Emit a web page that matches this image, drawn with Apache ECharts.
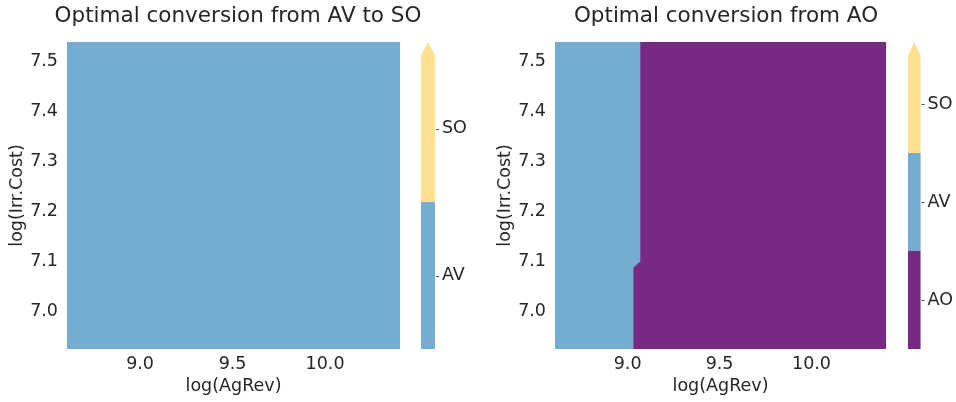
<!DOCTYPE html>
<html><head><meta charset="utf-8">
<script src="https://cdn.jsdelivr.net/npm/echarts@6/dist/echarts.min.js"></script>
<style>html,body{margin:0;padding:0;background:#fff}#c{width:956px;height:402px}</style>
</head><body><div id="c"></div>
<script>
// ---- data ----
const titles = ['Optimal conversion from AV to SO', 'Optimal conversion from AO'];
const xLabel = 'log(AgRev)';
const yLabel = 'log(Irr.Cost)';
const xLimits = [8.605, 10.405];
const yLimits = [6.924, 7.538];
const xTicks = [9.0, 9.5, 10.0];
const yTicks = [7.0, 7.1, 7.2, 7.3, 7.4, 7.5];
// left panel: entire domain is AV
const leftCategories = ['AV', 'SO'];
// right panel: AV/AO boundary (x at given y, bottom to top)
const rightBoundary = [[9.033, 6.924], [9.033, 7.087], [9.07, 7.099], [9.07, 7.538]];
const rightCategories = ['AO', 'AV', 'SO'];
const colors = { AO: '#762a83', AV: '#74add1', SO: '#fee090' };

// ---- build regions ----
const [x0, x1] = xLimits, [y0, y1] = yLimits;
const leftRegions = [
  { cat: 'AV', poly: [[x0, y0], [x0, y1], [x1, y1], [x1, y0]] }
];
const rightRegions = [
  { cat: 'AV', poly: [[x0, y0], [x0, y1]].concat(rightBoundary.slice().reverse()) },
  { cat: 'AO', poly: rightBoundary.concat([[x1, y1], [x1, y0]]) }
];

const txt = '#262626';
const font = 'DejaVu Sans';
const fs = 17.5;

function regionSeries(regions, idx) {
  return {
    type: 'custom', xAxisIndex: idx, yAxisIndex: idx, clip: true, silent: true,
    data: regions.map((r, i) => [i]),
    renderItem: (params, api) => {
      const r = regions[params.dataIndex];
      return { type: 'polygon', shape: { points: r.poly.map(p => api.coord(p)) },
        style: { fill: colors[r.cat], stroke: colors[r.cat], lineWidth: 0.5 } };
    }
  };
}
function colorbarSeries(cats, idx) {
  return {
    type: 'custom', xAxisIndex: idx, yAxisIndex: idx, clip: false, silent: true,
    data: cats.map((c, i) => [0, i]),
    renderItem: (params, api) => {
      const i = params.dataIndex;
      const a = api.coord([0, i]), b = api.coord([1, i]);
      const h = api.size([0, 1])[1];
      const top = a[1] - h / 2, bot = a[1] + h / 2;
      const cy = Math.round(a[1]) + 0.5;
      const children = [
        { type: 'rect', shape: { x: a[0], y: top, width: b[0] - a[0], height: bot - top },
          style: { fill: colors[cats[i]] } },
        { type: 'line', shape: { x1: b[0] + 1, y1: cy, x2: b[0] + 4, y2: cy },
          style: { stroke: txt, lineWidth: 0.8 } }
      ];
      if (i === cats.length - 1) {
        children.push({ type: 'polygon', shape: { points: [[a[0], top + 0.5], [(a[0] + b[0]) / 2, top - 13], [b[0], top + 0.5]] },
          style: { fill: colors[cats[i]] } });
      }
      return { type: 'group', children };
    }
  };
}
function mainX(idx) {
  return { gridIndex: idx, type: 'value', min: x0, max: x1,
    name: xLabel, nameLocation: 'middle', nameGap: 27,
    nameTextStyle: { color: txt, fontSize: fs, fontFamily: font },
    axisLine: { show: false }, axisTick: { show: false }, splitLine: { show: false },
    axisLabel: { customValues: xTicks, color: txt, fontSize: fs, fontFamily: font, margin: 6,
      formatter: v => v.toFixed(1) } };
}
function mainY(idx) {
  return { gridIndex: idx, type: 'value', min: y0, max: y1,
    name: yLabel, nameLocation: 'middle', nameGap: 40,
    nameTextStyle: { color: txt, fontSize: fs, fontFamily: font },
    axisLine: { show: false }, axisTick: { show: false }, splitLine: { show: false },
    axisLabel: { customValues: yTicks, color: txt, fontSize: fs, fontFamily: font, margin: 9,
      formatter: v => v.toFixed(1) } };
}
function cbX(idx) {
  return { gridIndex: idx, type: 'value', min: 0, max: 1, show: false };
}
function cbY(idx, cats) {
  return { gridIndex: idx, type: 'category', data: cats, position: 'right',
    axisLine: { show: false }, splitLine: { show: false }, axisTick: { show: false },
    axisLabel: { color: txt, fontSize: fs, fontFamily: font, margin: 7, padding: [4, 0, 0, 0] } };
}

const chart = echarts.init(document.getElementById('c'), null, { renderer: 'canvas' });
chart.setOption({
  backgroundColor: '#fff',
  animation: false,
  title: [
    { text: titles[0], left: 233, top: 0, textAlign: 'center',
      textStyle: { color: txt, fontSize: 21.5, fontWeight: 'normal', fontFamily: font } },
    { text: titles[1], left: 721, top: 0, textAlign: 'center',
      textStyle: { color: txt, fontSize: 21.5, fontWeight: 'normal', fontFamily: font } }
  ],
  grid: [
    { left: 67, top: 42, width: 333, height: 307 },
    { left: 555, top: 42, width: 331, height: 307 },
    { left: 421, top: 55, width: 14, height: 294 },
    { left: 908, top: 55, width: 15, height: 294 }
  ],
  xAxis: [mainX(0), mainX(1), cbX(2), cbX(3)],
  yAxis: [mainY(0), mainY(1), cbY(2, leftCategories), cbY(3, rightCategories)],
  series: [
    regionSeries(leftRegions, 0),
    regionSeries(rightRegions, 1),
    colorbarSeries(leftCategories, 2),
    colorbarSeries(rightCategories, 3)
  ]
});
</script></body></html>
